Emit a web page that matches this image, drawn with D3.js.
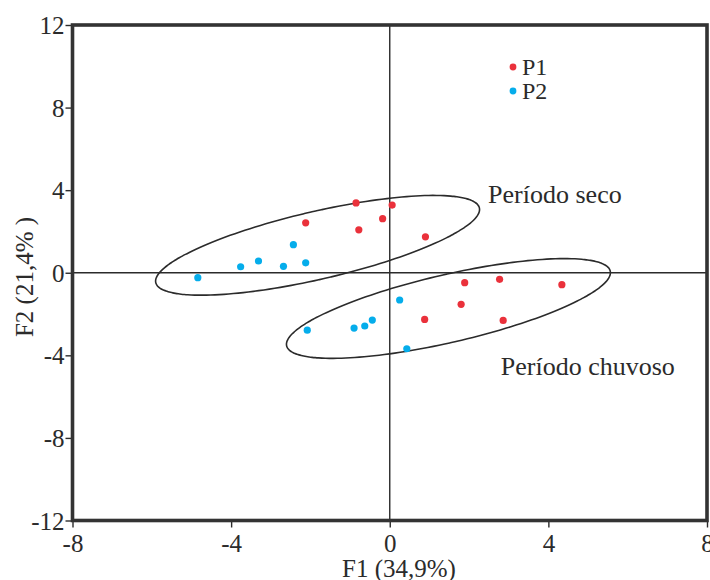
<!DOCTYPE html>
<html><head><meta charset="utf-8">
<script src="https://cdn.jsdelivr.net/npm/d3@7"></script>
<style>body{margin:0;background:#fff}svg{display:block}</style>
</head><body><svg id="c" width="710" height="580"></svg>
<script>
const xTicks = [-8, -4, 0, 4, 8];
const yTicks = [-12, -8, -4, 0, 4, 8, 12];
const seriesNames = ["P1", "P2"];
const seriesColors = ["#ea313b", "#05adeb"];
const p1X = [-2.12, -0.85, -0.78, -0.18, 0.06, 0.90, 1.89, 2.77, 4.34, 1.80, 0.88, 2.86];
const p1Y = [2.42, 3.38, 2.08, 2.62, 3.28, 1.74, -0.48, -0.32, -0.58, -1.53, -2.26, -2.31];
const p2X = [-4.84, -3.76, -3.31, -2.68, -2.43, -2.12, 0.25, -2.08, -0.90, -0.63, -0.44, 0.43];
const p2Y = [-0.24, 0.29, 0.57, 0.31, 1.36, 0.48, -1.32, -2.78, -2.68, -2.58, -2.29, -3.68];
const groupNames = ["Período seco", "Período chuvoso"];
const ellipseCX = [-1.82, 1.48];
const ellipseCY = [1.33, -1.73];
const ellipseMajor = [4.08, 1.81];
const ellipseMinor = [-0.19, 1.60];
const groupLabelX = [2.48, 2.80];
const groupLabelY = [3.36, -4.96];

const svg = d3.select("#c");
const mL = 72.5, mR = 707, mT = 25, mB = 520.5;
const x = d3.scaleLinear().domain([-8, 8]).range([mL, mR]);
const y = d3.scaleLinear().domain([-12, 12]).range([mB, mT]);
const font = "'Liberation Serif','Times New Roman',serif";
const ink = "#2b2b2b";

// zero lines
svg.append("line").attr("x1", x(0)).attr("x2", x(0)).attr("y1", mT).attr("y2", mB)
  .attr("stroke", ink).attr("stroke-width", 1.4);
svg.append("line").attr("x1", mL).attr("x2", mR).attr("y1", y(0)).attr("y2", y(0))
  .attr("stroke", ink).attr("stroke-width", 1.4);

// ellipses
const ts = d3.range(0, 360, 2).map(d => d * Math.PI / 180);
groupNames.forEach((g, i) => {
  const pts = ts.map(t => [
    x(ellipseCX[i] + Math.cos(t) * ellipseMajor[0] + Math.sin(t) * ellipseMinor[0]),
    y(ellipseCY[i] + Math.cos(t) * ellipseMajor[1] + Math.sin(t) * ellipseMinor[1])
  ]);
  svg.append("path").attr("d", d3.line().curve(d3.curveCardinalClosed)(pts))
    .attr("fill", "none").attr("stroke", ink).attr("stroke-width", 1.6);
  svg.append("text").attr("x", x(groupLabelX[i])).attr("y", y(groupLabelY[i]))
    .attr("font-family", font).attr("font-size", 26).attr("fill", ink).text(g);
});

// points
const seriesData = [[p1X, p1Y], [p2X, p2Y]];
seriesData.forEach((s, i) => {
  svg.append("g").selectAll("circle").data(s[0]).join("circle")
    .attr("cx", d => x(d)).attr("cy", (d, j) => y(s[1][j])).attr("r", 3.6)
    .attr("fill", seriesColors[i]);
});

// axes
const xAxis = svg.append("g").attr("transform", `translate(0,${mB})`)
  .call(d3.axisBottom(x).tickValues(xTicks).tickSize(7).tickPadding(2).tickFormat(d3.format("d")));
const yAxis = svg.append("g").attr("transform", `translate(${mL},0)`)
  .call(d3.axisLeft(y).tickValues(yTicks).tickSize(7).tickPadding(1).tickFormat(d3.format("d")));
[xAxis, yAxis].forEach(a => {
  a.select(".domain").remove();
  a.selectAll(".tick line").attr("stroke", ink).attr("stroke-width", 1.4);
  a.selectAll(".tick text").attr("font-family", font).attr("font-size", 25).attr("fill", ink)
    .text(d => String(d));
});
yAxis.selectAll(".tick text").attr("dy", "0.34em");
xAxis.selectAll(".tick text").attr("dy", "0.9em");

// frame
svg.append("rect").attr("x", mL).attr("y", mT).attr("width", mR - mL).attr("height", mB - mT)
  .attr("fill", "none").attr("stroke", "#333").attr("stroke-width", 3.6);

// axis titles
svg.append("text").attr("x", 399).attr("y", 577).attr("text-anchor", "middle")
  .attr("font-family", font).attr("font-size", 25).attr("fill", ink).text("F1 (34,9%)");
svg.append("text").attr("transform", `translate(33,277) rotate(-90)`).attr("text-anchor", "middle")
  .attr("font-family", font).attr("font-size", 25).attr("fill", ink).text("F2 (21,4% )");

// legend
const legend = svg.append("g").attr("transform", "translate(513,67)");
seriesNames.forEach((n, i) => {
  const g = legend.append("g").attr("transform", `translate(0,${i * 24})`);
  g.append("circle").attr("r", 3.4).attr("fill", seriesColors[i]);
  g.append("text").attr("x", 9).attr("y", 8.2).attr("font-family", font).attr("font-size", 24)
    .attr("fill", ink).text(n);
});
</script></body></html>
